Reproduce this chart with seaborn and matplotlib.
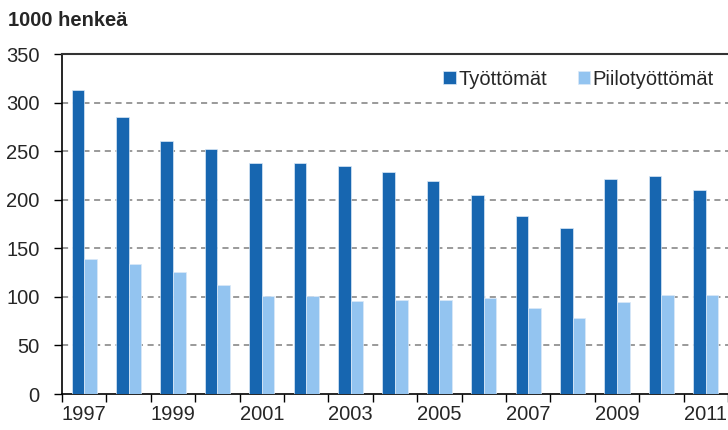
import pandas as pd
import seaborn as sns
import matplotlib.pyplot as plt
from matplotlib.ticker import FixedLocator

years = list(range(1997, 2012))
tyottomat = [313, 285, 260, 252, 238, 238, 235, 229, 219, 205, 183, 171, 221, 224, 210]
piilotyottomat = [139, 134, 126, 112, 101, 101, 96, 97, 97, 99, 89, 78, 95, 102, 102]
series_names = ['Työttömät', 'Piilotyöttömät']
colors = ['#1766b0', '#93c4f0']

df = pd.DataFrame({
    'vuosi': years * 2,
    'arvo': tyottomat + piilotyottomat,
    'sarja': [series_names[0]] * len(years) + [series_names[1]] * len(years),
})

sns.set_style('white')
plt.rcParams['font.family'] = ['Liberation Sans', 'DejaVu Sans']
fs = 14.5

fig = plt.figure(figsize=(7.28, 4.30), dpi=100)
ax = fig.add_axes([62 / 728, 36 / 430, 1 - 62 / 728, 340 / 430])

sns.barplot(data=df, x='vuosi', y='arvo', hue='sarja', palette=colors, saturation=1,
            width=0.57, edgecolor='#dbe9f7', linewidth=0.5, ax=ax, zorder=3)

ax.set_ylim(0, 350)
ax.set_xlim(-0.5, len(years) - 0.5)
ax.set_yticks(range(0, 351, 50))
ax.set_xlabel('')
ax.set_ylabel('')

for v in range(50, 301, 50):
    ax.axhline(v, color='#7f7f7f', linestyle=(0, (4, 3)), linewidth=1.1, zorder=1)

# labels every other year at category centres, ticks at boundaries
ax.set_xticks(range(0, len(years), 2))
ax.set_xticklabels([str(y) for y in years[::2]])
ax.xaxis.set_minor_locator(FixedLocator([i - 0.5 for i in range(len(years) + 1)]))
ax.tick_params(axis='x', which='major', length=0, labelsize=fs, pad=8)
ax.tick_params(axis='x', which='minor', length=6, width=1, color='black', bottom=True)
ax.tick_params(axis='y', length=6, width=1, color='black', left=True, labelsize=fs, pad=10)

for s in ['left', 'bottom']:
    ax.spines[s].set_color('black')
    ax.spines[s].set_linewidth(1.2)
ax.spines['top'].set_color('#333333')
ax.spines['top'].set_linewidth(1.5)
ax.spines['right'].set_visible(False)

leg = ax.legend(loc='upper right', ncol=2, frameon=False, fontsize=fs,
                handlelength=0.6, handleheight=0.6, handletextpad=0.15,
                columnspacing=1.5, borderaxespad=0.3, bbox_to_anchor=(1.0, 0.995))

fig.text(8 / 728, 1 - 20 / 430, '1000 henkeä', fontsize=fs, fontweight='bold',
         va='center', ha='left')

fig.savefig('out.png', dpi=100)
